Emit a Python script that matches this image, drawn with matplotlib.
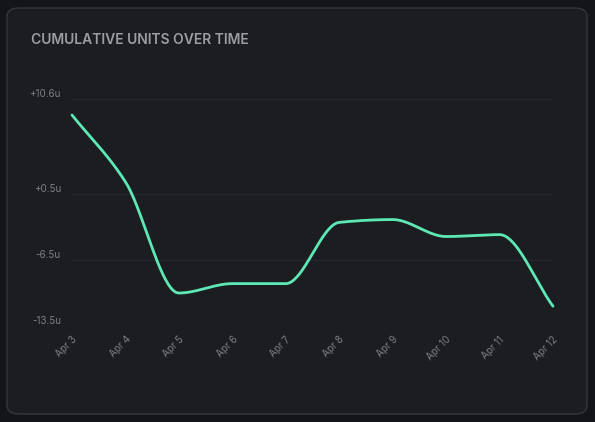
import matplotlib
matplotlib.use("Agg")
import matplotlib.pyplot as plt
from matplotlib.patches import FancyBboxPatch
import numpy as np

dates = ["Apr 3","Apr 4","Apr 5","Apr 6","Apr 7","Apr 8","Apr 9","Apr 10","Apr 11","Apr 12"]
values = [8.9, 1.8, -10.0, -9.0, -9.0, -2.5, -2.2, -4.0, -3.8, -11.4]
yticks = [-13.5, -6.5, 0.5, 10.6]
ytick_labels = ["-13.5u", "-6.5u", "+0.5u", "+10.6u"]

def monotone(x, y, n=40):
    x = np.asarray(x, float); y = np.asarray(y, float)
    h = np.diff(x); d = np.diff(y) / h
    m = np.zeros_like(y)
    m[0] = d[0]; m[-1] = d[-1]
    for i in range(1, len(y) - 1):
        if d[i-1] * d[i] <= 0:
            m[i] = 0
        else:
            m[i] = 3 * (h[i-1] + h[i]) / ((2*h[i] + h[i-1]) / d[i-1] + (h[i] + 2*h[i-1]) / d[i])
    xs, ys = [], []
    for i in range(len(h)):
        t = np.linspace(0, 1, n)
        h00 = 2*t**3 - 3*t**2 + 1; h10 = t**3 - 2*t**2 + t
        h01 = -2*t**3 + 3*t**2; h11 = t**3 - t**2
        xs.append(x[i] + t*h[i])
        ys.append(h00*y[i] + h10*h[i]*m[i] + h01*y[i+1] + h11*h[i]*m[i+1])
    return np.concatenate(xs), np.concatenate(ys)

W, H = 595, 422
fig = plt.figure(figsize=(W/100, H/100), dpi=100)
fig.patch.set_facecolor("#141518")
card = FancyBboxPatch((7/W, 8/H), 580/W, 406/H, boxstyle="round,pad=0,rounding_size=0.02",
                      transform=fig.transFigure, facecolor="#1c1d20", edgecolor="#34363a", lw=1,
                      zorder=-10)
fig.patches.append(card)
fig.text(31/W, 1 - 40/H, "CUMULATIVE UNITS OVER TIME", color="#9b9da2", fontsize=10,
         fontweight="semibold", va="center", ha="left", family=["Inter", "DejaVu Sans"])

ax = fig.add_axes([72/W, 1 - 326/H, (553-72)/W, (326-99)/H])
ax.set_zorder(5)
ax.set_facecolor("none")
x = np.arange(len(dates))
xs, ys = monotone(x, values)
ax.plot(xs, ys, color="#5ee8b5", lw=2, solid_capstyle="round", clip_on=False)
ax.set_xlim(0, len(dates) - 1)
ax.set_ylim(-13.5, 10.6)
ax.set_yticks(yticks)
ax.set_yticklabels(ytick_labels, family=["Inter", "DejaVu Sans"])
ax.set_xticks(x)
ax.set_xticklabels(dates, rotation=45, ha="right", rotation_mode="anchor", family=["Inter", "DejaVu Sans"])
for yv in yticks:
    ax.axhline(yv, color="#26282c", lw=0.8, zorder=0)
for s in ax.spines.values():
    s.set_visible(False)
ax.tick_params(length=0, colors="#7d7f84", labelsize=7)
ax.tick_params(axis="y", pad=8)
ax.tick_params(axis="x", pad=6)
for lbl in ax.get_yticklabels():
    lbl.set_verticalalignment("bottom")
fig.savefig("out.png", dpi=100, facecolor=fig.get_facecolor())
